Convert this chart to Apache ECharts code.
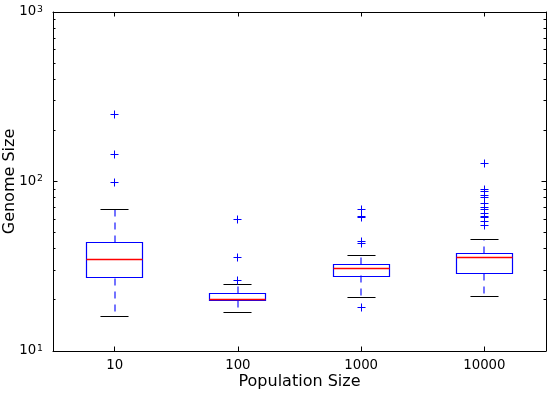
<!DOCTYPE html>
<html><head><meta charset="utf-8">
<script src="https://cdn.jsdelivr.net/npm/echarts@6/dist/echarts.min.js"></script>
<style>html,body{margin:0;padding:0;background:#fff}#c{width:553px;height:394px}</style>
</head><body><div id="c"></div>
<script>
const categories = ['10', '100', '1000', '10000'];
const whiskerLow = [16, 16.8, 20.8, 20.9];
const q1 = [26.9, 19.8, 27.7, 28.7];
const median = [34.6, 20, 30.7, 35.7];
const q3 = [43.5, 21.7, 32.6, 37.7];
const whiskerHigh = [68, 24.8, 36.7, 45.6];
const outliers = [
  [250, 145, 99],
  [60, 35.7, 25.9],
  [68, 62, 61, 44, 43, 18],
  [128, 90, 87, 83, 80, 74, 70, 68, 65, 62, 61, 58, 55]
];
const yMajorTicks = [10, 100, 1000];
const yMinorTicks = [20, 30, 40, 50, 60, 70, 80, 90, 200, 300, 400, 500, 600, 700, 800, 900];

const FONT = 'DejaVu Sans';
const boxData = categories.map((c, i) => [i, whiskerLow[i], q1[i], median[i], q3[i], whiskerHigh[i]]);
const outlierData = [];
outliers.forEach((arr, i) => arr.forEach(v => outlierData.push([i, v])));
const minorData = yMinorTicks.map(v => [0, v]);

function r(v) { return Math.round(v - 0.5) + 0.5; }

function renderBox(params, api) {
  const i = api.value(0);
  const lo = api.coord([i, api.value(1)]);
  const b1 = api.coord([i, api.value(2)]);
  const md = api.coord([i, api.value(3)]);
  const b3 = api.coord([i, api.value(4)]);
  const hi = api.coord([i, api.value(5)]);
  const band = api.size([1, 0])[0];
  const w = band * 0.455;
  const cw = w / 2;
  const x = r(lo[0]);
  const xw = Math.round(lo[0]);
  const blue = '#0000ff';
  const dash = [7, 6];
  return {
    type: 'group',
    children: [
      { type: 'line', shape: { x1: xw, y1: r(b1[1]), x2: xw, y2: r(lo[1]) }, style: { stroke: blue, fill: null, lineWidth: 1.1, lineDash: dash } },
      { type: 'line', shape: { x1: xw, y1: r(b3[1]), x2: xw, y2: r(hi[1]) }, style: { stroke: blue, fill: null, lineWidth: 1.1, lineDash: dash } },
      { type: 'line', shape: { x1: x - cw / 2, y1: r(lo[1]), x2: x + cw / 2, y2: r(lo[1]) }, style: { stroke: '#000', lineWidth: 1 } },
      { type: 'line', shape: { x1: x - cw / 2, y1: r(hi[1]), x2: x + cw / 2, y2: r(hi[1]) }, style: { stroke: '#000', lineWidth: 1 } },
      { type: 'rect', shape: { x: r(x - w / 2), y: r(b3[1]), width: Math.round(w), height: Math.round(b1[1] - b3[1]) }, style: { fill: 'none', stroke: blue, lineWidth: 1.2 } },
      { type: 'line', shape: { x1: r(x - w / 2), y1: r(md[1]), x2: r(x - w / 2) + Math.round(w), y2: r(md[1]) }, style: { stroke: '#ff0000', fill: null, lineWidth: 1.4 } }
    ]
  };
}

function renderPlus(params, api) {
  const p = api.coord([api.value(0), api.value(1)]);
  const x = r(p[0]), y = r(p[1]), s = 4;
  return {
    type: 'group',
    children: [
      { type: 'line', shape: { x1: x - s, y1: y, x2: x + s, y2: y }, style: { stroke: '#0000ff', lineWidth: 1 } },
      { type: 'line', shape: { x1: x, y1: y - s, x2: x, y2: y + s }, style: { stroke: '#0000ff', lineWidth: 1 } }
    ]
  };
}

function renderMinor(params, api) {
  const cs = params.coordSys;
  const y = r(api.coord([0, api.value(1)])[1]);
  const L = 2.5;
  return {
    type: 'group',
    children: [
      { type: 'line', shape: { x1: cs.x, y1: y, x2: cs.x + L, y2: y }, style: { stroke: '#000', lineWidth: 1 } },
      { type: 'line', shape: { x1: cs.x + cs.width - L, y1: y, x2: cs.x + cs.width, y2: y }, style: { stroke: '#000', lineWidth: 1 } }
    ]
  };
}

const axisLineStyle = { color: '#000', width: 1 };
const chart = echarts.init(document.getElementById('c'), null, { renderer: 'canvas' });
chart.setOption({
  animation: false,
  backgroundColor: '#fff',
  grid: { left: 53, right: 7, top: 12, bottom: 43, containLabel: false, outerBoundsMode: 'none' },
  xAxis: [
    {
      type: 'category', data: categories, position: 'bottom', boundaryGap: true,
      name: 'Population Size', nameLocation: 'middle', nameGap: 23, nameMoveOverlap: false,
      nameTextStyle: { fontFamily: FONT, fontSize: 16, color: '#000' },
      axisLine: { show: true, lineStyle: axisLineStyle },
      axisTick: { show: true, inside: true, length: 4.5, alignWithLabel: true, lineStyle: axisLineStyle },
      axisLabel: { fontFamily: FONT, fontSize: 13.3, color: '#000', margin: 8 },
      splitLine: { show: false }
    },
    {
      type: 'category', data: categories, position: 'top', boundaryGap: true,
      axisLine: { show: true, lineStyle: axisLineStyle },
      axisTick: { show: true, inside: true, length: 4.5, alignWithLabel: true, lineStyle: axisLineStyle },
      axisLabel: { show: false },
      splitLine: { show: false }
    }
  ],
  yAxis: [
    {
      type: 'log', logBase: 10, min: 10, max: 1000, position: 'left',
      name: 'Genome Size', nameLocation: 'middle', nameGap: 35, nameMoveOverlap: false,
      nameTextStyle: { fontFamily: FONT, fontSize: 16, color: '#000' },
      axisLine: { show: true, lineStyle: axisLineStyle },
      axisTick: { show: true, inside: true, length: 4.5, lineStyle: axisLineStyle },
      axisLabel: {
        margin: 10,
        formatter: v => '{b|10}{s|' + Math.round(Math.log10(v)) + '}',
        rich: {
          b: { fontFamily: FONT, fontSize: 13.3, color: '#000' },
          s: { fontFamily: FONT, fontSize: 9.3, color: '#000', verticalAlign: 'top', padding: [0, 0, 5, 1] }
        }
      },
      splitLine: { show: false }
    },
    {
      type: 'log', logBase: 10, min: 10, max: 1000, position: 'right',
      axisLine: { show: true, lineStyle: axisLineStyle },
      axisTick: { show: true, inside: true, length: 4.5, lineStyle: axisLineStyle },
      axisLabel: { show: false },
      splitLine: { show: false }
    }
  ],
  series: [
    { type: 'custom', name: 'minor', data: minorData, renderItem: renderMinor, silent: true, z: 1 },
    { type: 'custom', name: 'boxes', data: boxData, renderItem: renderBox, encode: { x: 0, y: [1, 2, 3, 4, 5] }, z: 2 },
    { type: 'custom', name: 'outliers', data: outlierData, renderItem: renderPlus, encode: { x: 0, y: 1 }, z: 3 }
  ]
});
</script>
</body></html>
